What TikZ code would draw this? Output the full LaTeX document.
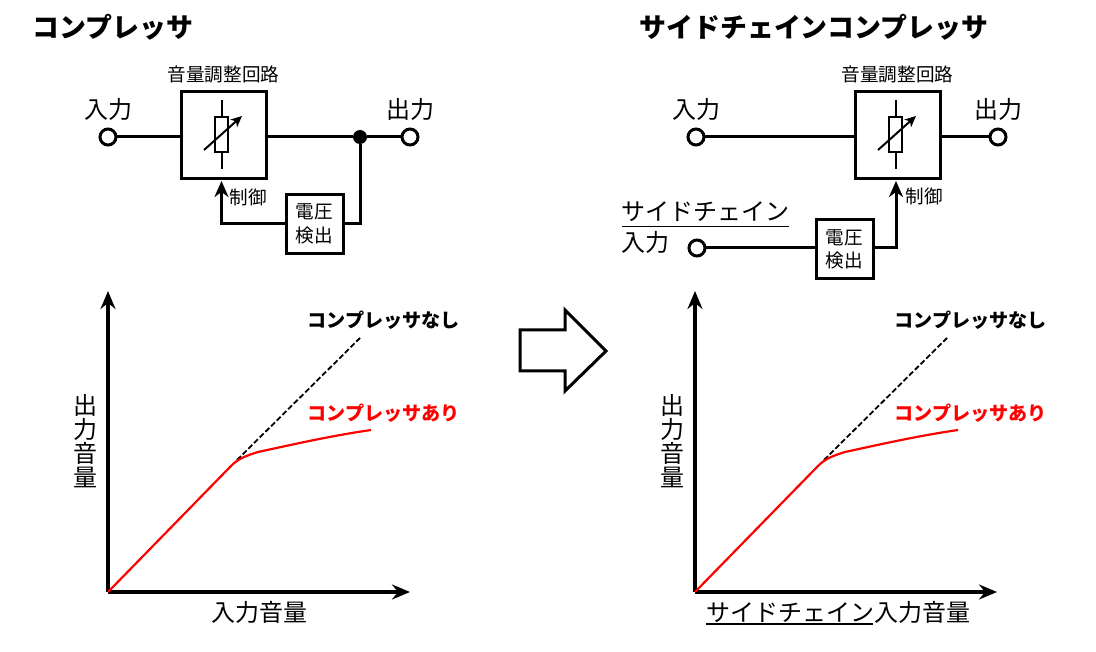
\documentclass[tikz,border=0pt]{standalone}
\usepackage{fontspec}
\setmainfont{Noto Sans CJK JP}
\usepackage{tikz}
\usetikzlibrary{positioning}
\usetikzlibrary{arrows.meta}

\newcommand{\bigtext}{\fontsize{24}{24}\selectfont}
\newcommand{\smalltext}{\fontsize{18.6}{23.5}\selectfont}

\begin{document}
\begin{tikzpicture}[
    x=1pt, y=-1pt,
    >={Stealth[length=18pt,width=15pt,inset=6pt]},
    every node/.style={inner sep=0pt, outer sep=0pt},
    wire/.style={line width=3pt},
    axis/.style={line width=3.2pt, ->},
    ctrlwire/.style={line width=3pt, -{Stealth[length=16pt,width=14pt,inset=5pt]}},
    terminal/.style={draw, circle, line width=3pt, fill=white, minimum size=16pt},
    dot/.style={circle, fill=black, minimum size=14pt},
    gainbox/.style={draw, line width=3pt, minimum width=85pt, minimum height=87pt},
    detectbox/.style={draw, line width=3pt, minimum width=57pt, minimum height=59pt, align=center, font=\smalltext},
    resistor/.style={draw, line width=2pt, fill=white, minimum width=13pt, minimum height=35pt},
    slider/.style={line width=2pt, -{Stealth[length=11pt,width=10pt,inset=3pt]}},
    title/.style={font=\fontsize{26.9}{30}\selectfont\bfseries, anchor=west},
    label/.style={font=\bigtext},
    smalllabel/.style={font=\smalltext},
    curvelabel/.style={font=\fontsize{19.1}{22}\selectfont\bfseries, anchor=west},
    vertlabel/.style={font=\bigtext, align=center}
]
\useasboundingbox (0,0) rectangle (1096,652);

% left circuit
\node[title] (titleL) at (32.5,27) {コンプレッサ};
\node[gainbox] (gainL) at (223.5,135.5) {};
\node[smalllabel, above=9pt of gainL] (gainlabelL) {音量調整回路};
\node[terminal] (inL) at (108,137) {};
\node[label, above=8pt of inL] (inlabelL) {入力};
\node[terminal] (outL) at (410,137) {};
\node[label, above=8pt of outL] (outlabelL) {出力};
\node[dot] (dotL) at (360,137) {};
\node[detectbox] (detL) at (314.5,224) {電圧\\検出};
\node[smalllabel] (ctrlL) at (248,197) {制御};
\coordinate (cornerL) at (360,224);
\coordinate (riseL) at (221.5,224);
\coordinate (ctrlendL) at (221.5,181);
\draw[wire] (inL) -- (inL -| gainL.west);
\draw[wire] (gainL.east |- dotL) -- (dotL);
\draw[wire] (dotL) -- (outL);
\draw[wire] (dotL) -- (cornerL) -- (detL.east);
\draw[ctrlwire] (detL.west) -- (riseL) -- (ctrlendL);
% left variable resistor
\node[resistor] (resL) at (221.5,134.5) {};
\coordinate (leadtopL) at (221.5,100);
\coordinate (leadbotL) at (221.5,169);
\coordinate (slideAL) at (204,150);
\coordinate (slideBL) at (242,116);
\draw[line width=2pt] (leadtopL) -- (resL.north);
\draw[line width=2pt] (resL.south) -- (leadbotL);
\draw[slider] (slideAL) -- (slideBL);

% left graph
\coordinate (origL) at (108,592);
\coordinate (ytipL) at (108,291);
\coordinate (xtipL) at (410,592);
\coordinate (kneeL) at (237,460);
\coordinate (dashendL) at (360,338);
\coordinate (redendL) at (371,430);
\draw[axis] (origL) -- (ytipL);
\draw[axis] (origL) -- (xtipL);
\draw[line width=1.8pt, dash pattern=on 5.5pt off 2.5pt] (kneeL) -- (dashendL);
\draw[line width=2.2pt, red] (origL) -- (231,466) .. controls (238,459) and (245,456) .. (258,452) .. controls (295,444) and (330,436) .. (redendL);
\node[curvelabel] (noneL) at (307.5,320) {コンプレッサなし};
\node[curvelabel, red] (withL) at (307.5,413) {コンプレッサあり};
\node[vertlabel] (ylabelL) at (85,441) {出\\力\\音\\量};
\node[label] (xlabelL) at (259,612) {入力音量};

% block arrow
\draw[line width=3pt, miter limit=10, fill=white] (520,330) -- (565,330) -- (565,310) -- (606,351) -- (565,391) -- (565,371) -- (520,371) -- cycle;

% right circuit
\node[title] (titleR) at (639.5,27) {サイドチェインコンプレッサ};
\node[gainbox] (gainR) at (897.5,135.5) {};
\node[smalllabel, above=9pt of gainR] (gainlabelR) {音量調整回路};
\node[terminal] (inR) at (696,137) {};
\node[label, above=8pt of inR] (inlabelR) {入力};
\node[terminal] (outR) at (998,137) {};
\node[label, above=8pt of outR] (outlabelR) {出力};
\node[terminal] (sideR) at (697,248) {};
\node[label, anchor=west] (sidelabelR) at (621.5,212) {サイドチェイン};
\node[label, anchor=west] (sideinR) at (621.5,242) {入力};
\coordinate (ulineAR) at (622,226.5);
\coordinate (ulineBR) at (789,226.5);
\draw[line width=1.5pt] (ulineAR) -- (ulineBR);
\node[detectbox] (detR) at (844.5,249.5) {電圧\\検出};
\node[smalllabel] (ctrlR) at (924,196) {制御};
\coordinate (riseR) at (896,248);
\coordinate (ctrlendR) at (896,181);
\draw[wire] (inR) -- (inR -| gainR.west);
\draw[wire] (gainR.east |- outR) -- (outR);
\draw[wire] (sideR) -- (sideR -| detR.west);
\draw[ctrlwire] (detR.east |- riseR) -- (riseR) -- (ctrlendR);
% right variable resistor
\node[resistor] (resR) at (895.5,134.5) {};
\coordinate (leadtopR) at (895.5,100);
\coordinate (leadbotR) at (895.5,169);
\coordinate (slideAR) at (878,150);
\coordinate (slideBR) at (916,116);
\draw[line width=2pt] (leadtopR) -- (resR.north);
\draw[line width=2pt] (resR.south) -- (leadbotR);
\draw[slider] (slideAR) -- (slideBR);

% right graph
\coordinate (origR) at (695,592);
\coordinate (ytipR) at (695,291);
\coordinate (xtipR) at (997,592);
\coordinate (kneeR) at (824,460);
\coordinate (dashendR) at (947,338);
\coordinate (redendR) at (958,430);
\draw[axis] (origR) -- (ytipR);
\draw[axis] (origR) -- (xtipR);
\draw[line width=1.8pt, dash pattern=on 5.5pt off 2.5pt] (kneeR) -- (dashendR);
\draw[line width=2.2pt, red] (origR) -- (818,466) .. controls (825,459) and (832,456) .. (845,452) .. controls (882,444) and (917,436) .. (redendR);
\node[curvelabel] (noneR) at (894.5,320) {コンプレッサなし};
\node[curvelabel, red] (withR) at (894.5,413) {コンプレッサあり};
\node[vertlabel] (ylabelR) at (672,441) {出\\力\\音\\量};
\node[label, anchor=west] (xlabelR) at (706,612) {サイドチェイン入力音量};
\coordinate (xulineAR) at (706,624);
\coordinate (xulineBR) at (873,624);
\draw[line width=1.5pt] (xulineAR) -- (xulineBR);
\end{tikzpicture}
\end{document}
